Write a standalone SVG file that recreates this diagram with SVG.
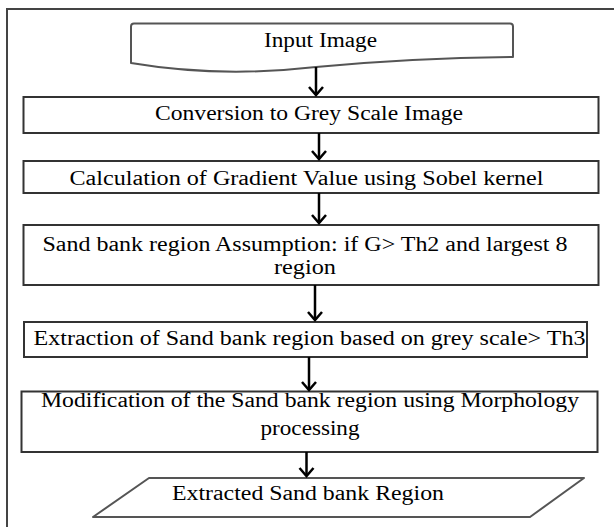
<svg xmlns="http://www.w3.org/2000/svg" width="614" height="527" viewBox="0 0 614 527">
<defs>
<style>
.frame{fill:none;stroke:#444;stroke-width:2}
.box{fill:#fff;stroke:#333;stroke-width:2}
.doc{fill:#fff;stroke:#555;stroke-width:2;stroke-linejoin:round}
.t{font-family:"Liberation Serif","Times New Roman",serif;font-size:20px;fill:#000;text-anchor:middle}
.arr{stroke:#000;stroke-width:2.5;fill:none;marker-end:url(#ah)}
</style>
<marker id="ah" markerUnits="userSpaceOnUse" markerWidth="20" markerHeight="20" refX="8" refY="0" orient="auto" overflow="visible">
<path d="M0,-7 L8,0 L0,7" fill="none" stroke="#000" stroke-width="2.5"/>
</marker>
</defs>
<rect class="frame" x="7" y="9" width="620" height="530"/>
<g id="input">
<path class="doc" d="M134,23.5 L510,23.5 Q513,23.5 513,26.5 L513,57 Q412,58 316,67 Q220,78 131,63 L131,26.5 Q131,23.5 134,23.5 Z"/>
<text class="t" x="320.5" y="47" textLength="113" lengthAdjust="spacingAndGlyphs">Input Image</text>
</g>
<g id="grey">
<rect class="box" x="23.5" y="97" width="575" height="36"/>
<text class="t" x="309" y="120" textLength="308" lengthAdjust="spacingAndGlyphs">Conversion to Grey Scale Image</text>
</g>
<g id="gradient">
<rect class="box" x="23.5" y="161" width="575" height="32"/>
<text class="t" x="306.5" y="185" textLength="474" lengthAdjust="spacingAndGlyphs">Calculation  of Gradient Value using Sobel  kernel</text>
</g>
<g id="assume">
<rect class="box" x="23.5" y="225" width="575" height="60"/>
<text class="t" x="305" y="251" textLength="525" lengthAdjust="spacingAndGlyphs">Sand bank region Assumption: if G&gt; Th2 and largest 8</text>
<text class="t" x="305" y="274" textLength="62" lengthAdjust="spacingAndGlyphs">region</text>
</g>
<g id="extract">
<rect class="box" x="24" y="322" width="563" height="35"/>
<text class="t" x="309.5" y="345" textLength="552" lengthAdjust="spacingAndGlyphs">Extraction of Sand bank region based on grey scale&gt; Th3</text>
</g>
<g id="morph">
<rect class="box" x="21.5" y="391.5" width="576" height="60.5"/>
<text class="t" x="310" y="406.5" textLength="538" lengthAdjust="spacingAndGlyphs">Modification of the Sand bank region using Morphology</text>
<text class="t" x="310" y="434.5" textLength="99" lengthAdjust="spacingAndGlyphs">processing</text>
</g>
<g id="output">
<path class="doc" d="M149,478 L584,478 L530,517 L93,517 Z"/>
<text class="t" x="308" y="500" textLength="272" lengthAdjust="spacingAndGlyphs">Extracted Sand bank Region</text>
</g>
<g id="connectors">
<line class="arr" x1="316" y1="67" x2="316" y2="95"/>
<line class="arr" x1="319" y1="133" x2="319" y2="159"/>
<line class="arr" x1="319" y1="193" x2="319" y2="223"/>
<line class="arr" x1="315" y1="285" x2="315" y2="320"/>
<line class="arr" x1="309" y1="357" x2="309" y2="390"/>
<line class="arr" x1="306.5" y1="452" x2="306.5" y2="476"/>
</g>
</svg>
